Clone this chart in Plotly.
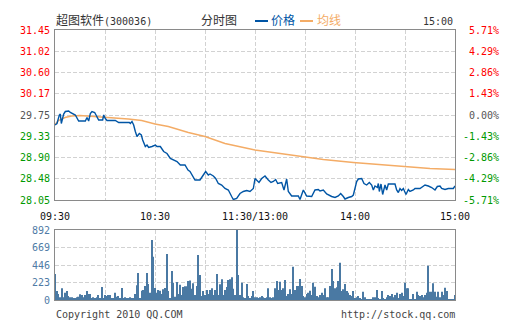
import plotly.graph_objects as go

# ---- intraday data: 超图软件 (300036) ----
PREV_CLOSE = 29.75

# minute index from 09:30 (0) to 15:00 (240), lunch break removed
price_minutes = [0, 1.2, 2.6, 3.2, 3.8, 5.2, 6.2, 8.2, 9.2, 11.2, 12.2, 14.2, 18.2, 19.2, 20.2,
                 21.2, 22.2, 23.8, 25.2, 26.2, 28.6, 29.2, 30.2, 31.2, 36.2, 38.2, 44.6, 45.2, 46.2,
                 47.2, 48.2, 49.2, 50.6, 51.8, 52.6, 54.2, 55.2, 56.2, 58.2, 60.2, 61.2, 63.2, 65.2,
                 67.2, 69.2, 71.2, 73.2, 75.2, 78, 79.8, 81, 84, 87, 89, 90.4, 92, 93, 95, 96.4, 98,
                 100, 102, 104, 106, 107, 109, 111, 113, 115, 117, 119, 120, 121, 122.4, 124, 126,
                 128, 129.6, 131, 132.4, 133.6, 136, 137.4, 139, 140, 142, 146, 147, 149, 151, 154,
                 156, 158, 159, 161, 163, 166, 168, 170, 171.4, 173, 174, 176, 178, 179, 180, 181,
                 182, 184, 185.4, 187, 188.6, 190, 191, 192, 193.4, 194, 194.6, 195.6, 196.6, 198,
                 199, 200, 202, 204, 205, 206, 207, 208, 209, 210.6, 212, 213, 215, 216, 219, 221,
                 222, 224, 226, 228, 229.4, 231, 232, 234, 236, 239, 240]
price = [29.55, 29.58, 29.75, 29.77, 29.58, 29.77, 29.82, 29.83, 29.80, 29.77, 29.75, 29.63, 29.63,
         29.70, 29.63, 29.78, 29.82, 29.80, 29.72, 29.65, 29.65, 29.75, 29.68, 29.64, 29.64, 29.60,
         29.60, 29.58, 29.62, 29.55, 29.42, 29.32, 29.38, 29.35, 29.25, 29.12, 29.15, 29.10, 29.12,
         29.15, 29.12, 29.12, 29.02, 28.98, 28.88, 28.85, 28.82, 28.75, 28.75, 28.65, 28.62, 28.45,
         28.45, 28.55, 28.62, 28.55, 28.57, 28.53, 28.48, 28.38, 28.35, 28.28, 28.25, 28.12, 28.06,
         28.08, 28.18, 28.22, 28.24, 28.22, 28.28, 28.48, 28.45, 28.40, 28.48, 28.53, 28.45, 28.40,
         28.42, 28.46, 28.38, 28.40, 28.25, 28.47, 28.22, 28.13, 28.13, 28.06, 28.25, 28.13, 28.12,
         28.25, 28.26, 28.23, 28.25, 28.17, 28.12, 28.10, 28.13, 28.18, 28.12, 28.07, 28.10, 28.12,
         28.15, 28.32, 28.42, 28.47, 28.48, 28.38, 28.35, 28.40, 28.35, 28.25, 28.33, 28.30, 28.38,
         28.22, 28.37, 28.16, 28.35, 28.25, 28.37, 28.37, 28.37, 28.25, 28.20, 28.28, 28.24, 28.28,
         28.16, 28.26, 28.22, 28.25, 28.28, 28.28, 28.32, 28.35, 28.33, 28.30, 28.25, 28.32, 28.33,
         28.28, 28.26, 28.28, 28.28, 28.33]

avg_minutes = [0, 2, 6, 10, 15, 30, 44, 52, 60, 68, 80, 90, 102, 120, 138, 150, 161, 179, 199,
               211, 225, 240]
avg_price = [29.56, 29.64, 29.70, 29.73, 29.74, 29.71, 29.67, 29.64, 29.57, 29.52, 29.40, 29.32,
             29.18, 29.05, 28.96, 28.90, 28.86, 28.80, 28.75, 28.72, 28.68, 28.66]

# traded volume per minute (lots), minutes 0..240
volume = [330, 115, 76, 34, 149, 34, 93, 115, 51, 34, 34, 21, 13, 34, 42, 72, 64, 34, 64, 115,
          76, 76, 21, 34, 21, 34, 64, 13, 166, 21, 64, 51, 64, 64, 21, 21, 93, 42, 51, 21,
          153, 21, 34, 13, 13, 34, 21, 13, 76, 187, 344, 21, 119, 127, 178, 344, 204, 93, 765, 552,
          153, 93, 127, 119, 76, 136, 153, 586, 115, 13, 369, 221, 42, 229, 76, 195, 64, 166, 174, 174,
          242, 250, 144, 212, 64, 178, 573, 318, 51, 115, 64, 127, 76, 127, 149, 64, 127, 331, 64, 200,
          263, 64, 127, 166, 255, 263, 289, 144, 64, 892, 318, 64, 221, 34, 13, 204, 51, 13,
          51, 115, 34, 34, 21, 34, 51, 34, 21, 34, 149, 34, 13, 34, 149, 242, 127, 233, 127, 149,
          255, 51, 76, 136, 76, 425, 127, 178, 178, 267, 178, 51, 34, 76, 93, 119, 64, 221, 170, 51,
          34, 64, 93, 64, 149, 34, 34, 178, 395, 242, 149, 161, 242, 476, 115, 136, 204, 115, 93, 64,
          51, 115, 13, 34, 51, 13, 5, 106, 34, 5, 5, 5, 5, 34, 34, 127, 13, 5, 115, 21,
          5, 34, 64, 51, 76, 34, 64, 93, 21, 76, 93, 51, 221, 149, 149, 5, 5, 76, 5, 106,
          64, 51, 64, 34, 64, 93, 437, 106, 106, 212, 106, 42, 106, 34, 106, 64, 157, 115, 5, 5,
          5, 5, 64]
vol_minutes = list(range(len(volume)))

time_ticks = [0, 30, 60, 90, 120, 150, 180, 210, 240]
time_labels = ["09:30", "", "10:30", "", "11:30/13:00", "", "14:00", "", "15:00"]

price_ticks = [28.05, 28.475, 28.90, 29.325, 29.75, 30.175, 30.60, 31.025, 31.45]
price_labels = ["28.05", "28.48", "28.90", "29.33", "29.75", "30.17", "30.60", "31.02", "31.45"]
pct_labels = ["-5.71%", "-4.29%", "-2.86%", "-1.43%", "0.00%", "1.43%", "2.86%", "4.29%", "5.71%"]

vol_ticks = [0, 223, 446, 669, 892]
vol_labels = ["0", "223", "446", "669", "892"]

# ---- styling ----
W, H = 505, 330
MONO = "DejaVu Sans Mono"
CJK = "Noto Sans CJK SC"
RED, GREEN, FLAT = "#FF0000", "#009900", "#555555"
BLUE, ORANGE, BAR = "#0055A5", "#F4AC66", "#4A79A3"
GRID, FRAME = "#D2D2D2", "#8A8A8A"


def colour_for(v):
    if abs(v - PREV_CLOSE) < 1e-9:
        return FLAT
    return RED if v > PREV_CLOSE else GREEN


def tint(text, colour):
    return f'<span style="color:{colour}">{text}</span>'


left_text = [tint(t, colour_for(v)) for t, v in zip(price_labels, price_ticks)]
# pad with no-break spaces so the monospace labels line up on the right
right_text = [tint(t.rjust(6, "\u00a0"), colour_for(v)) for t, v in zip(pct_labels, price_ticks)]


def px_x(x):
    return x / W


def px_y(y):
    return 1 - y / H


x_dom = [px_x(55), px_x(455)]
main_dom = [px_y(200), px_y(30)]
vol_dom = [px_y(300), px_y(230)]

fig = go.Figure()
fig.add_trace(go.Bar(x=vol_minutes, y=volume, width=0.55, xaxis="x2", yaxis="y3",
                     marker=dict(color=BAR, line=dict(width=0)), showlegend=False))
fig.add_trace(go.Scatter(x=avg_minutes, y=avg_price, mode="lines", name="均线",
                         line=dict(color=ORANGE, width=1.4), xaxis="x", yaxis="y",
                         showlegend=False))
fig.add_trace(go.Scatter(x=price_minutes, y=price, mode="lines", name="价格",
                         line=dict(color=BLUE, width=1.4), xaxis="x", yaxis="y2",
                         showlegend=False))

grid = dict(showgrid=True, gridcolor=GRID, griddash="4px,2px", gridwidth=1,
            showline=True, linecolor=FRAME, linewidth=1, mirror=True, zeroline=False,
            ticks="", fixedrange=True, automargin=False)

fig.update_layout(
    width=W, height=H, margin=dict(l=0, r=0, t=0, b=0, autoexpand=False),
    paper_bgcolor="white", plot_bgcolor="white",
    font=dict(family=MONO, size=10, color="#222222"),
    showlegend=False,
    xaxis=dict(domain=x_dom, anchor="y", range=[0, 240], tickmode="array",
               tickvals=time_ticks, ticktext=time_labels, ticklabelstandoff=7,
               tickfont=dict(family=MONO, size=10, color="#111111"), **grid),
    yaxis=dict(domain=main_dom, anchor="x", range=[28.05, 31.45], tickmode="array",
               tickvals=price_ticks, ticktext=left_text, ticklabelstandoff=2,
               tickfont=dict(family=MONO, size=10), **grid),
    yaxis2=dict(overlaying="y", anchor="x", side="right", range=[28.05, 31.45],
                tickmode="array", tickvals=price_ticks, ticktext=right_text,
                showgrid=False, zeroline=False, showline=False, ticks="", automargin=False,
                ticklabelstandoff=7, tickfont=dict(family=MONO, size=10)),
    xaxis2=dict(domain=x_dom, anchor="y3", range=[0, 240], tickmode="array",
                tickvals=time_ticks, showticklabels=False, **grid),
    yaxis3=dict(domain=vol_dom, anchor="x2", range=[0, 892], tickmode="array",
                tickvals=vol_ticks, ticktext=vol_labels, ticklabelstandoff=2,
                tickfont=dict(family=MONO, size=10, color="#4F7BA6"), **grid),
)

# title, legend keys and footer
fig.add_annotation(x=px_x(54), y=px_y(20), xref="paper", yref="paper", xanchor="left",
                   yanchor="middle", showarrow=False,
                   text='超图软件<span style="font-family:DejaVu Sans Mono;font-size:10px">(300036)</span>',
                   font=dict(family=CJK, size=12, color="#333333"))
fig.add_annotation(x=px_x(199), y=px_y(20), xref="paper", yref="paper", xanchor="left",
                   yanchor="middle", showarrow=False, text="分时图",
                   font=dict(family=CJK, size=12, color="#333333"))
fig.add_shape(type="line", xref="paper", yref="paper", x0=px_x(255), x1=px_x(268),
              y0=px_y(21), y1=px_y(21), line=dict(color=BLUE, width=2))
fig.add_annotation(x=px_x(269), y=px_y(20), xref="paper", yref="paper", xanchor="left",
                   yanchor="middle", showarrow=False, text="价格",
                   font=dict(family=CJK, size=12, color=BLUE))
fig.add_shape(type="line", xref="paper", yref="paper", x0=px_x(300), x1=px_x(313),
              y0=px_y(21), y1=px_y(21), line=dict(color=ORANGE, width=2))
fig.add_annotation(x=px_x(315), y=px_y(20), xref="paper", yref="paper", xanchor="left",
                   yanchor="middle", showarrow=False, text="均线",
                   font=dict(family=CJK, size=12, color=ORANGE))
fig.add_annotation(x=px_x(455), y=px_y(22), xref="paper", yref="paper", xanchor="right",
                   yanchor="middle", showarrow=False, text="15:00",
                   font=dict(family=MONO, size=10, color="#333333"))
fig.add_annotation(x=px_x(54), y=px_y(314), xref="paper", yref="paper", xanchor="left",
                   yanchor="middle", showarrow=False, text="Copyright 2010 QQ.COM",
                   font=dict(family=MONO, size=10, color="#444444"))
fig.add_annotation(x=px_x(457), y=px_y(314), xref="paper", yref="paper", xanchor="right",
                   yanchor="middle", showarrow=False, text="http://stock.qq.com",
                   font=dict(family=MONO, size=10, color="#444444"))

fig.write_html("out.html")
